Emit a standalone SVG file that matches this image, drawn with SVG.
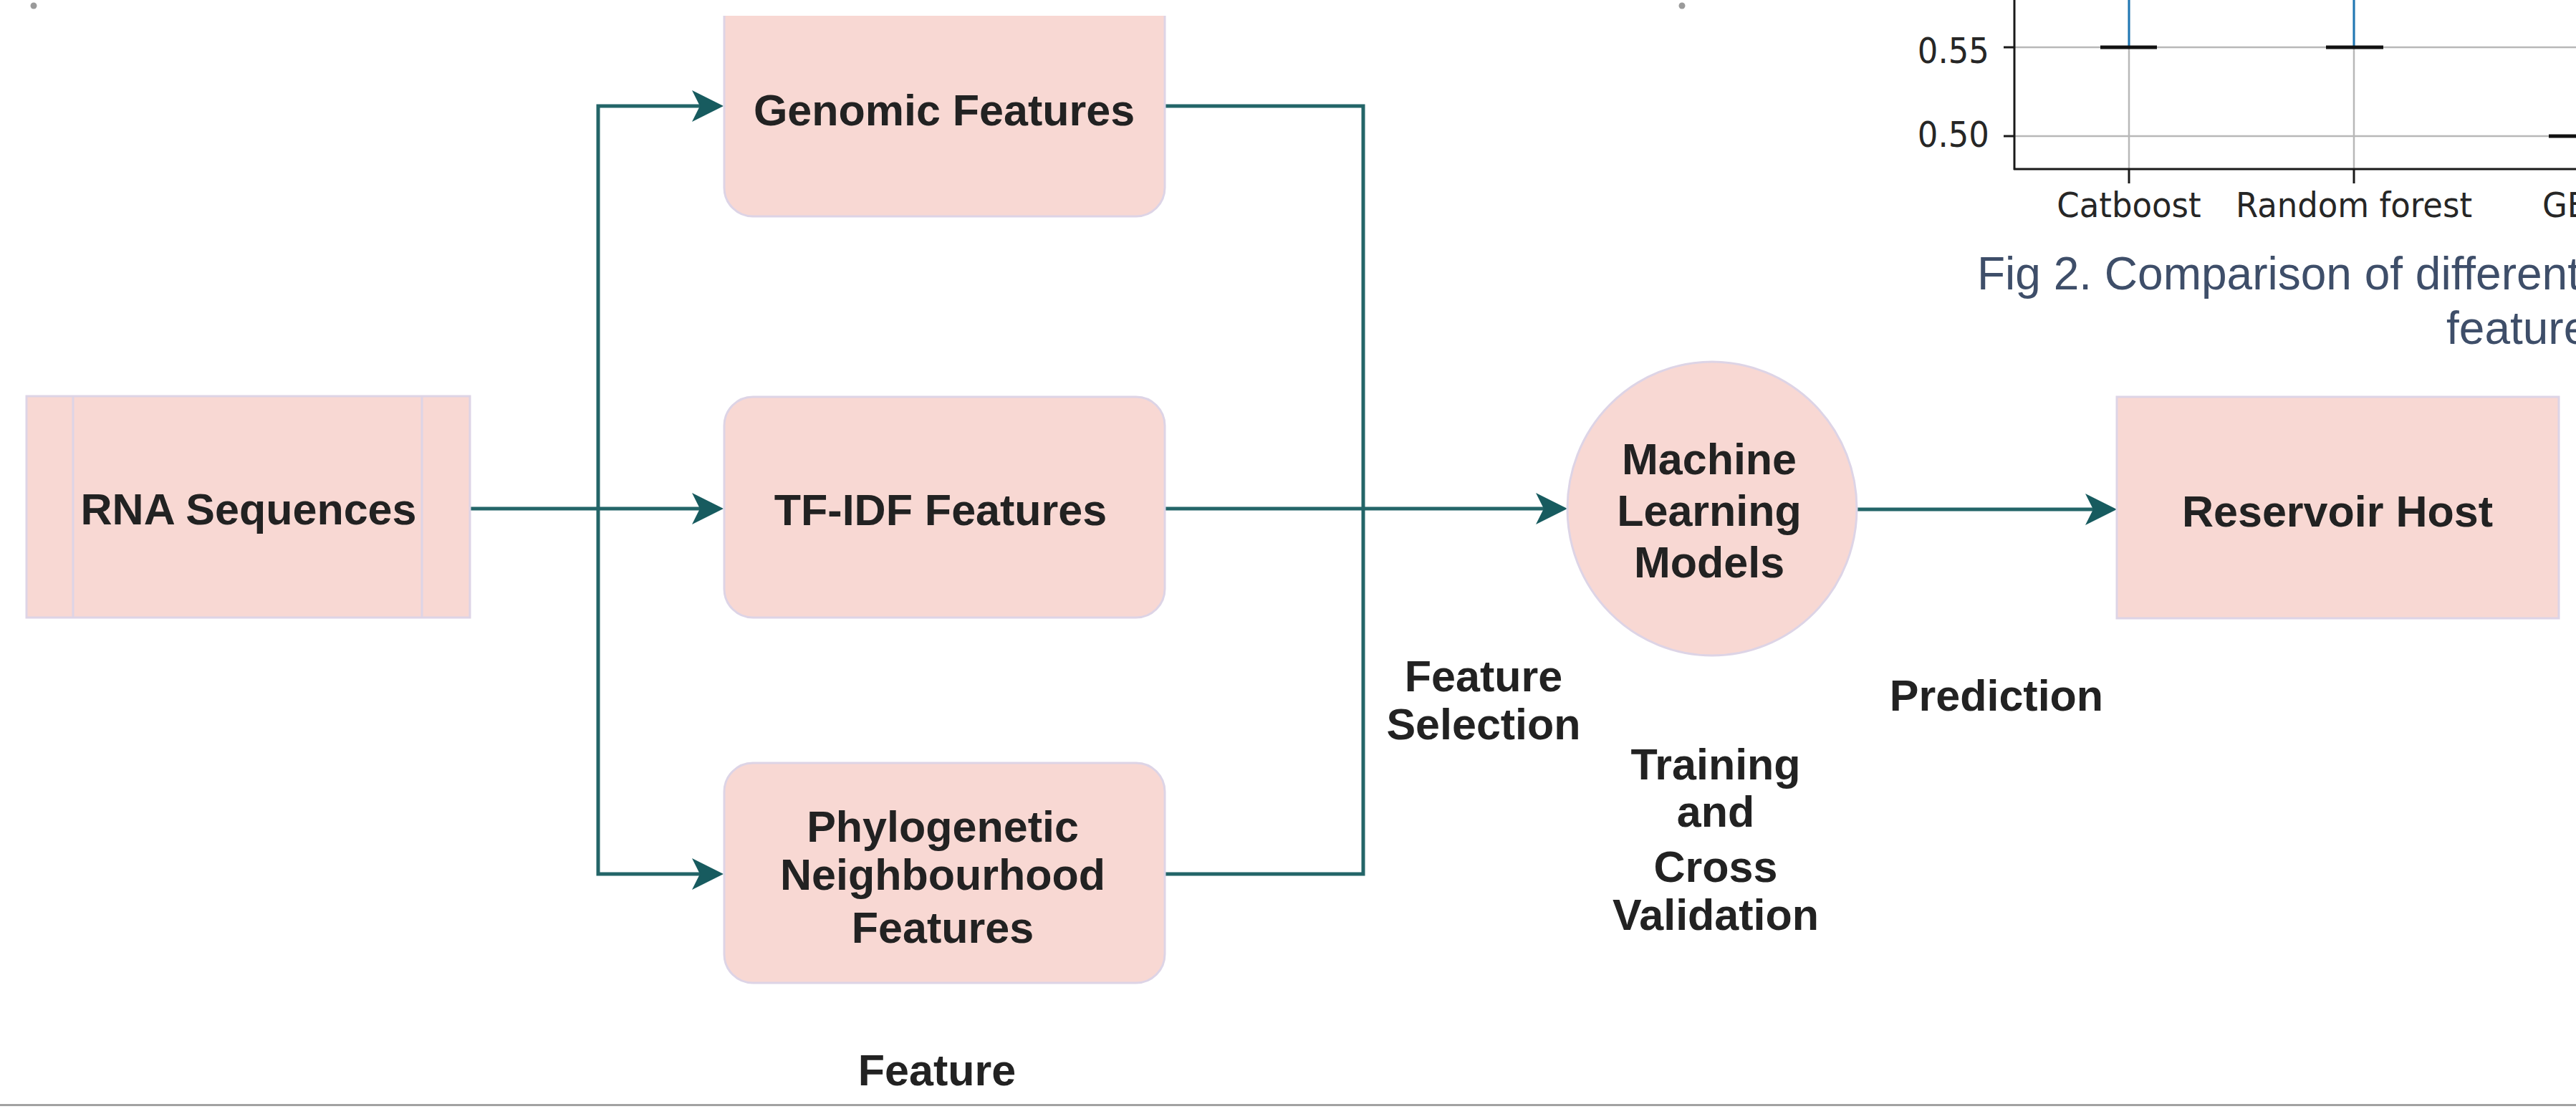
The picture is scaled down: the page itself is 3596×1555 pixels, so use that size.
<svg xmlns="http://www.w3.org/2000/svg" width="3596" height="1555" viewBox="0 0 3596 1555">
  <defs>
    <style>
      .box { fill: #f8d8d3; stroke: #ddd4e6; stroke-width: 3; }
      .boxfill { fill: #f8d8d3; stroke: none; }
      .boxedge { fill: none; stroke: #ddd4e6; stroke-width: 3; }
      .lbl { font-family: "Liberation Sans", Arial, sans-serif; font-weight: bold; font-size: 61px; fill: #222222; text-anchor: middle; }
      .conn { fill: none; stroke: #236568; stroke-width: 5; }
      .axis { font-family: "DejaVu Sans", sans-serif; font-size: 45px; fill: #262626; }
      .grid { stroke: #b8b8b8; stroke-width: 2.5; fill: none; }
      .spine { stroke: #1a1a1a; stroke-width: 3; fill: none; }
      .cap { stroke: #111111; stroke-width: 5; fill: none; }
      .whisker { stroke: #1f77b4; stroke-width: 3; fill: none; }
      .caption { font-family: "Liberation Sans", Arial, sans-serif; font-size: 64px; fill: #3e4e69; }
    </style>
    <marker id="arrow" viewBox="0 -22 44 44" refX="11" refY="0" markerWidth="44" markerHeight="44" markerUnits="userSpaceOnUse" orient="auto">
      <path d="M0,-22 L44,0 L0,22 L11,0 Z" fill="#175b5f"/>
    </marker>
  </defs>

  <rect x="0" y="0" width="3596" height="1555" fill="#ffffff"/>

  <!-- small page markers -->
  <circle cx="47" cy="8" r="4.5" fill="#9a9a9a"/>
  <circle cx="2348" cy="8" r="4.5" fill="#9a9a9a"/>

  <!-- chart fragment, top right -->
  <g id="chart">
    <line class="grid" x1="2812" y1="66" x2="3596" y2="66"/>
    <line class="grid" x1="2812" y1="190" x2="3596" y2="190"/>
    <line class="grid" x1="2972" y1="0" x2="2972" y2="236"/>
    <line class="grid" x1="3286" y1="0" x2="3286" y2="236"/>
    <line class="whisker" x1="2972" y1="0" x2="2972" y2="66"/>
    <line class="whisker" x1="3286" y1="0" x2="3286" y2="66"/>
    <line class="cap" x1="2932" y1="66" x2="3011" y2="66"/>
    <line class="cap" x1="3247" y1="66" x2="3327" y2="66"/>
    <line class="cap" x1="3558" y1="190" x2="3596" y2="190"/>
    <line class="spine" x1="2812" y1="0" x2="2812" y2="237"/>
    <line class="spine" x1="2811" y1="236" x2="3596" y2="236"/>
    <line class="spine" x1="2797" y1="66" x2="2812" y2="66"/>
    <line class="spine" x1="2797" y1="190" x2="2812" y2="190"/>
    <line class="spine" x1="2972" y1="236" x2="2972" y2="256"/>
    <line class="spine" x1="3286" y1="236" x2="3286" y2="256"/>
    <text class="axis" text-anchor="end" transform="translate(2777,88) scale(1,1.12)">0.55</text>
    <text class="axis" text-anchor="end" transform="translate(2777,205) scale(1,1.12)">0.50</text>
    <text class="axis" text-anchor="middle" transform="translate(2972,303) scale(1,1.08)">Catboost</text>
    <text class="axis" text-anchor="middle" transform="translate(3286,303) scale(1,1.08)">Random forest</text>
    <text class="axis" transform="translate(3549,303) scale(1,1.08)">GB</text>
    <text class="caption" x="2760" y="404">Fig 2. Comparison of different</text>
    <text class="caption" x="3415" y="480">feature</text>
  </g>

  <!-- connectors -->
  <g id="connectors">
    <path class="conn" d="M656,710 H977" marker-end="url(#arrow)"/>
    <path class="conn" d="M835,710 V148 H977" marker-end="url(#arrow)"/>
    <path class="conn" d="M835,710 V1220 H977" marker-end="url(#arrow)"/>
    <path class="conn" d="M1626,148 H1903 V710"/>
    <path class="conn" d="M1626,1220 H1903 V710"/>
    <path class="conn" d="M1626,710 H2155" marker-end="url(#arrow)"/>
    <path class="conn" d="M2592,711 H2922" marker-end="url(#arrow)"/>
  </g>

  <!-- nodes -->
  <g id="rna-sequences">
    <rect class="box" x="37" y="553" width="619" height="309"/>
    <line class="boxedge" x1="102" y1="553" x2="102" y2="862"/>
    <line class="boxedge" x1="589" y1="553" x2="589" y2="862"/>
    <text class="lbl" x="347" y="732">RNA Sequences</text>
  </g>

  <g id="genomic-features">
    <path class="boxfill" d="M1011,22 H1626 V262 A40,40 0 0 1 1586,302 H1051 A40,40 0 0 1 1011,262 Z"/>
    <path class="boxedge" d="M1011,22 V262 A40,40 0 0 0 1051,302 H1586 A40,40 0 0 0 1626,262 V22"/>
    <text class="lbl" x="1318" y="175">Genomic Features</text>
  </g>

  <g id="tfidf-features">
    <rect class="box" x="1011" y="554" width="615" height="308" rx="40" ry="40"/>
    <text class="lbl" x="1313" y="733">TF-IDF Features</text>
  </g>

  <g id="phylogenetic-features">
    <rect class="box" x="1011" y="1065" width="615" height="307" rx="40" ry="40"/>
    <text class="lbl" x="1316" y="1175">Phylogenetic</text>
    <text class="lbl" x="1316" y="1242">Neighbourhood</text>
    <text class="lbl" x="1316" y="1316">Features</text>
  </g>

  <g id="ml-models">
    <ellipse class="box" cx="2390" cy="710" rx="202" ry="205"/>
    <text class="lbl" x="2386" y="662">Machine</text>
    <text class="lbl" x="2386" y="734">Learning</text>
    <text class="lbl" x="2386" y="806">Models</text>
  </g>

  <g id="reservoir-host">
    <rect class="box" x="2955" y="554" width="617" height="309"/>
    <text class="lbl" x="3263" y="735">Reservoir Host</text>
  </g>

  <!-- stage labels -->
  <g id="stage-labels">
    <text class="lbl" x="2071" y="965">Feature</text>
    <text class="lbl" x="2071" y="1032">Selection</text>
    <text class="lbl" x="2787" y="992">Prediction</text>
    <text class="lbl" x="2395" y="1088">Training</text>
    <text class="lbl" x="2395" y="1154">and</text>
    <text class="lbl" x="2395" y="1231">Cross</text>
    <text class="lbl" x="2395" y="1298">Validation</text>
    <text class="lbl" x="1308" y="1515">Feature</text>
  </g>

  <!-- bottom rule -->
  <rect x="0" y="1541" width="3596" height="3" fill="#a2a2a2"/>
</svg>
